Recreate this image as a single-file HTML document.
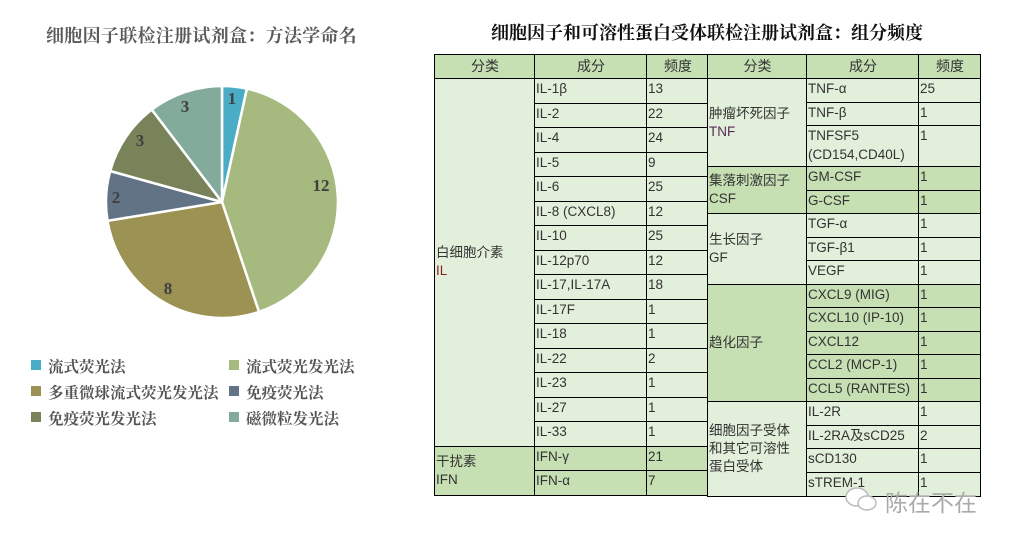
<!DOCTYPE html>
<html><head><meta charset="utf-8"><style>
body{margin:0;width:1020px;height:545px;background:#fff;position:relative;overflow:hidden;font-family:"Liberation Sans","Noto Sans CJK SC",sans-serif}
.t1{position:absolute;left:46px;top:22px;font:bold 18px "Liberation Serif","Noto Serif CJK SC",serif;color:#5a5a5a;letter-spacing:0.3px}
.t2{position:absolute;left:434px;width:546px;top:19px;text-align:center;font:bold 18px "Liberation Serif","Noto Serif CJK SC",serif;color:#111}
.lg{position:absolute;font:bold 15.5px "Liberation Serif","Noto Serif CJK SC",serif;color:#555}
.lg i{position:absolute;left:-17px;top:5px;width:10px;height:10px}
table{position:absolute;border-collapse:collapse;table-layout:fixed;font-size:13.5px;color:#333}
td{border:1px solid #000;padding:0 0 0 1px;vertical-align:top;line-height:19px;overflow:hidden;white-space:nowrap}
.h td{text-align:center;vertical-align:middle;background:#c6e0b4;font-size:14px}
.l td{background:#e2efda}.d td{background:#c6e0b4}
td.c{vertical-align:middle;white-space:normal;line-height:18px}
.r{color:#8b2323}
</style></head><body>
<div class="t1">细胞因子联检注册试剂盒：方法学命名</div>
<div class="t2">细胞因子和可溶性蛋白受体联检注册试剂盒：组分频度</div>
<svg width="440" height="340" style="position:absolute;left:0;top:0">
<g stroke="#fff" stroke-width="2.5" stroke-linejoin="round">
<path d="M222,202 L222,86 A116,116 0 0 1 246.9,88.7Z" fill="#4bacc6"/>
<path d="M222,202 L246.9,88.7 A116,116 0 0 1 259,311.9Z" fill="#a6b97e"/>
<path d="M222,202 L259,311.9 A116,116 0 0 1 107.5,220.8Z" fill="#9c9254"/>
<path d="M222,202 L107.5,220.8 A116,116 0 0 1 110.2,171Z" fill="#627386"/>
<path d="M222,202 L110.2,171 A116,116 0 0 1 151.8,109.6Z" fill="#78835a"/>
<path d="M222,202 L151.8,109.6 A116,116 0 0 1 222,86Z" fill="#82ab9b"/>
</g>
<g font-family="Liberation Serif,serif" font-weight="bold" font-size="17" fill="#404040" text-anchor="middle">
<text x="232" y="104">1</text><text x="321" y="191">12</text><text x="168" y="294">8</text>
<text x="116" y="203">2</text><text x="140" y="146">3</text><text x="185" y="112">3</text>
</g></svg>
<div class="lg" style="left:48px;top:355px"><i style="background:#4bacc6"></i>流式荧光法</div>
<div class="lg" style="left:246px;top:355px"><i style="background:#a6b97e"></i>流式荧光发光法</div>
<div class="lg" style="left:48px;top:381px"><i style="background:#9c9254"></i>多重微球流式荧光发光法</div>
<div class="lg" style="left:246px;top:381px"><i style="background:#627386"></i>免疫荧光法</div>
<div class="lg" style="left:48px;top:407px"><i style="background:#78835a"></i>免疫荧光发光法</div>
<div class="lg" style="left:246px;top:407px"><i style="background:#82ab9b"></i>磁微粒发光法</div>

<table style="left:434px;top:54px;width:274px">
<colgroup><col style="width:100px"><col style="width:112px"><col style="width:62px"></colgroup>
<tr class="h" style="height:24px"><td>分类</td><td>成分</td><td>频度</td></tr>
<tr class="l" style="height:24.5px"><td class="c" rowspan="15">白细胞介素<br><span class="r">IL</span></td><td>IL-1β</td><td>13</td></tr>
<tr class="l" style="height:24.5px"><td>IL-2</td><td>22</td></tr>
<tr class="l" style="height:24.5px"><td>IL-4</td><td>24</td></tr>
<tr class="l" style="height:24.5px"><td>IL-5</td><td>9</td></tr>
<tr class="l" style="height:24.5px"><td>IL-6</td><td>25</td></tr>
<tr class="l" style="height:24.5px"><td>IL-8 (CXCL8)</td><td>12</td></tr>
<tr class="l" style="height:24.5px"><td>IL-10</td><td>25</td></tr>
<tr class="l" style="height:24.5px"><td>IL-12p70</td><td>12</td></tr>
<tr class="l" style="height:24.5px"><td>IL-17,IL-17A</td><td>18</td></tr>
<tr class="l" style="height:24.5px"><td>IL-17F</td><td>1</td></tr>
<tr class="l" style="height:24.5px"><td>IL-18</td><td>1</td></tr>
<tr class="l" style="height:24.5px"><td>IL-22</td><td>2</td></tr>
<tr class="l" style="height:24.5px"><td>IL-23</td><td>1</td></tr>
<tr class="l" style="height:24.5px"><td>IL-27</td><td>1</td></tr>
<tr class="l" style="height:24.5px"><td>IL-33</td><td>1</td></tr>
<tr class="d" style="height:24.5px"><td class="c" rowspan="2">干扰素<br>IFN</td><td>IFN-γ</td><td>21</td></tr>
<tr class="d" style="height:24.5px"><td>IFN-α</td><td>7</td></tr>
</table>

<table style="left:707px;top:54px;width:273px">
<colgroup><col style="width:99px"><col style="width:112px"><col style="width:62px"></colgroup>
<tr class="h" style="height:24px"><td>分类</td><td>成分</td><td>频度</td></tr>
<tr class="l" style="height:23.5px"><td class="c" rowspan="3">肿瘤坏死因子<br><span style="color:#5a2a5a">TNF</span></td><td>TNF-α</td><td>25</td></tr>
<tr class="l" style="height:23.5px"><td>TNF-β</td><td>1</td></tr>
<tr class="l" style="height:41px"><td style="white-space:normal;line-height:19px">TNFSF5<br>(CD154,CD40L)</td><td>1</td></tr>
<tr class="d" style="height:23.5px"><td class="c" rowspan="2">集落刺激因子<br>CSF</td><td>GM-CSF</td><td>1</td></tr>
<tr class="d" style="height:23.5px"><td>G-CSF</td><td>1</td></tr>
<tr class="l" style="height:23.5px"><td class="c" rowspan="3">生长因子<br>GF</td><td>TGF-α</td><td>1</td></tr>
<tr class="l" style="height:23.5px"><td>TGF-β1</td><td>1</td></tr>
<tr class="l" style="height:23.5px"><td>VEGF</td><td>1</td></tr>
<tr class="d" style="height:23.5px"><td class="c" rowspan="5">趋化因子</td><td>CXCL9 (MIG)</td><td>1</td></tr>
<tr class="d" style="height:23.5px"><td>CXCL10 (IP-10)</td><td>1</td></tr>
<tr class="d" style="height:23.5px"><td>CXCL12</td><td>1</td></tr>
<tr class="d" style="height:23.5px"><td>CCL2 (MCP-1)</td><td>1</td></tr>
<tr class="d" style="height:23.5px"><td>CCL5 (RANTES)</td><td>1</td></tr>
<tr class="l" style="height:23.5px"><td class="c" rowspan="4">细胞因子受体<br>和其它可溶性<br>蛋白受体</td><td>IL-2R</td><td>1</td></tr>
<tr class="l" style="height:23.5px"><td>IL-2RA及sCD25</td><td>2</td></tr>
<tr class="l" style="height:23.5px"><td>sCD130</td><td>1</td></tr>
<tr class="l" style="height:24.5px"><td>sTREM-1</td><td>1</td></tr>
</table>

<svg width="40" height="30" style="position:absolute;left:842px;top:484px">
<ellipse cx="15" cy="13" rx="11" ry="9" fill="#fff" stroke="#bbb" stroke-width="1.5"/>
<ellipse cx="25" cy="19" rx="9" ry="7" fill="#fff" stroke="#bbb" stroke-width="1.5"/>
</svg>
<div style="position:absolute;left:885px;top:484px;font-size:23px;color:#aaa;font-family:'Liberation Sans','Noto Sans CJK SC',sans-serif">陈在不在</div>
</body></html>
